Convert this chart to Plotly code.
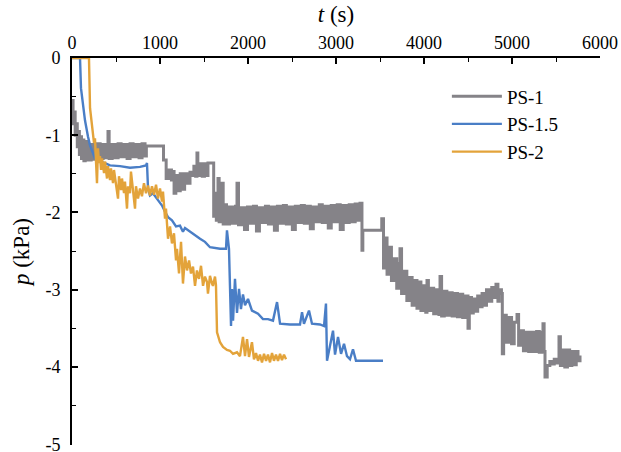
import plotly.graph_objects as go

# ---- PS-1 (t in s, p in kPa) ----
ps1_t = [0, 12, 24, 36, 48, 60, 72, 84, 96, 108, 120, 135, 150,
         184, 218, 252, 286, 320, 354, 388, 409, 422, 456, 490, 524, 558, 592, 626, 660,
         694, 728, 762, 796, 830, 845, 1030,
         1040, 1070, 1100, 1130, 1140, 1160, 1180, 1210, 1230, 1260, 1280, 1310, 1341,
         1360, 1385, 1405, 1420, 1430, 1455, 1480, 1505, 1530, 1545, 1600,
         1610, 1625, 1640, 1659, 1672, 1690, 1705, 1718, 1739,
         1756, 1790, 1824, 1858, 1875, 1892, 1926, 1960, 1994, 2028, 2062, 2096, 2130,
         2164, 2198, 2232, 2266, 2300, 2334, 2368, 2402, 2436, 2470, 2504, 2538, 2572,
         2606, 2640, 2674, 2708, 2742, 2776, 2810, 2844, 2878, 2912, 2946, 2980, 3014,
         3048, 3082, 3116, 3150, 3184, 3218, 3252, 3273,
         3295, 3305, 3330, 3500, 3520, 3540, 3560, 3580, 3600, 3614, 3630, 3660, 3690,
         3715, 3727, 3745, 3775, 3805, 3835, 3865, 3895, 3920, 3940, 3965, 3990, 4020,
         4034, 4050, 4080, 4110, 4140, 4170, 4182, 4200, 4230, 4260, 4290, 4320, 4350,
         4380, 4410, 4440, 4470, 4500, 4515,
         4540, 4560, 4590, 4610, 4640, 4660, 4690, 4710, 4740, 4770, 4790, 4818, 4840,
         4855, 4880, 4890, 4905, 4935, 4965, 4995, 5025, 5057, 5075, 5100, 5130, 5160,
         5190, 5220, 5250, 5280, 5310, 5340, 5352, 5365, 5375, 5400, 5430, 5460, 5480,
         5500, 5534, 5550, 5580, 5600, 5630, 5655, 5680, 5705, 5730, 5750, 5773]
ps1_p = [-0.55, -0.85, -0.70, -1.00, -0.85, -1.15, -0.95, -1.25, -1.02, -1.30, -1.06, -1.33, -1.08,
         -1.32, -1.12, -1.31, -1.11, -1.30, -1.12, -1.29, -0.95, -1.30, -1.12, -1.29, -1.11, -1.28, -1.12, -1.30, -1.11,
         -1.28, -1.12, -1.29, -1.11, -1.27, -1.14, -1.14,
         -1.32, -1.56, -1.45, -1.58, -1.47, -1.75, -1.52, -1.72, -1.50, -1.70, -1.50, -1.62, -1.48,
         -1.52, -1.40, -1.53, -1.23, -1.52, -1.37, -1.53, -1.37, -1.52, -1.36, -1.36,
         -2.05, -1.75, -2.10, -1.56, -2.12, -1.85, -1.62, -2.15, -1.90,
         -2.15, -1.93, -2.14, -1.92, -1.62, -2.16, -1.94, -2.22, -1.93, -2.14, -1.92, -2.24, -1.94,
         -2.13, -1.92, -2.15, -1.93, -2.23, -1.92, -2.14, -1.91, -2.15, -1.93, -2.22, -1.92, -2.13,
         -1.91, -2.14, -1.92, -2.21, -1.93, -2.12, -1.90, -2.13, -1.92, -2.20, -1.91, -2.12, -1.90,
         -2.22, -1.91, -2.13, -1.90, -2.12, -1.89, -2.10, -1.88,
         -2.49, -2.23, -2.23, -2.23, -2.08, -2.72, -2.33, -2.80, -2.52, -2.45, -2.88, -2.60, -2.98,
         -2.66, -2.47, -3.05, -2.76, -3.14, -2.84, -3.20, -2.88, -3.24, -2.90, -3.27, -2.95, -3.29,
         -2.88, -3.27, -2.98, -3.31, -3.00, -3.32, -2.83, -3.34, -3.02, -3.33, -3.04, -3.34, -3.05,
         -3.35, -3.06, -3.36, -3.08, -3.50, -3.10,
         -3.30, -3.12, -3.28, -3.08, -3.22, -3.05, -3.20, -3.00, -3.15, -2.97, -3.10, -2.93, -3.15,
         -3.00, -3.05, -3.83, -3.33, -3.68, -3.36, -3.70, -3.42, -3.32, -3.72, -3.53, -3.79, -3.55,
         -3.80, -3.55, -3.80, -3.54, -3.81, -3.55, -3.44, -3.80, -4.13, -3.98, -3.93, -3.96, -3.90,
         -3.95, -3.61, -3.98, -3.78, -4.00, -3.78, -3.98, -3.80, -3.97, -3.80, -3.92, -3.85]

# ---- PS-1.5 ----
ps15_t = [0, 91, 102, 148, 182, 205, 261, 318, 375, 432, 545, 659, 773, 841, 852, 864, 886,
          920, 977, 1023, 1057, 1091, 1136, 1182, 1227, 1261, 1284, 1318, 1364, 1455, 1511,
          1568, 1682, 1750, 1761, 1784, 1807, 1818, 1830, 1852, 1875, 1898, 1920, 1943, 1966,
          2000, 2045, 2114, 2170, 2227, 2284, 2330, 2364, 2477, 2591, 2614, 2636, 2693, 2727,
          2818, 2864, 2886, 2898, 2932, 2966, 2989, 3023, 3057, 3091, 3125, 3159, 3193, 3227,
          3273, 3534]
ps15_p = [0, 0, -0.39, -0.81, -1.02, -1.13, -1.30, -1.34, -1.36, -1.39, -1.40, -1.42, -1.41,
          -1.39, -1.36, -1.69, -1.78, -1.75, -1.84, -1.91, -1.99, -2.06, -2.10, -2.18, -2.17,
          -2.25, -2.20, -2.23, -2.27, -2.34, -2.38, -2.45, -2.47, -2.47, -2.23, -2.47, -3.47,
          -2.99, -3.40, -2.86, -3.30, -2.99, -3.25, -3.06, -3.20, -3.12, -3.27, -3.31, -3.38,
          -3.38, -3.40, -3.16, -3.44, -3.45, -3.45, -3.29, -3.44, -3.27, -3.44, -3.45, -3.47,
          -3.18, -3.92, -3.70, -3.53, -3.84, -3.61, -3.83, -3.70, -3.86, -3.90, -3.77, -3.92,
          -3.92, -3.92]

# ---- PS-2 ----
ps2_t = [0, 193, 205, 227, 250, 261, 273, 284, 295, 307, 318, 330, 341, 364, 375, 398, 409,
         432, 443, 466, 477, 500, 523, 534, 557, 568, 591, 602, 625, 636, 659, 670, 693, 716,
         727, 750, 773, 795, 818, 841, 864, 886, 909, 932, 955, 977, 1000, 1023, 1034, 1057,
         1068, 1091, 1114, 1136, 1159, 1182, 1193, 1216, 1239, 1261, 1284, 1307, 1330, 1352,
         1375, 1398, 1420, 1443, 1466, 1489, 1511, 1534, 1545, 1568, 1591, 1602, 1625, 1636,
         1648, 1682, 1716, 1761, 1795, 1830, 1875, 1909, 1943, 1966, 1989, 2011, 2045, 2068,
         2091, 2114, 2136, 2159, 2182, 2205, 2227, 2250, 2273, 2295, 2318, 2341, 2364, 2386,
         2409, 2432]
ps2_p = [0, 0, -0.65, -0.91, -1.10, -1.04, -1.27, -1.62, -1.17, -1.36, -1.27, -1.45, -1.30,
         -1.49, -1.34, -1.56, -1.40, -1.58, -1.43, -1.62, -1.45, -1.66, -1.82, -1.53, -1.71,
         -1.56, -1.75, -1.60, -1.95, -1.66, -1.75, -1.47, -1.73, -1.95, -1.66, -1.82, -1.69,
         -1.79, -1.62, -1.75, -1.65, -1.78, -1.66, -1.77, -1.64, -1.82, -1.69, -1.86, -1.73,
         -2.08, -1.95, -2.34, -2.18, -2.40, -2.27, -2.62, -2.47, -2.79, -2.38, -2.92, -2.57,
         -2.75, -2.62, -2.79, -2.70, -2.95, -2.75, -2.86, -2.69, -2.95, -2.83, -2.90, -3.05,
         -2.82, -2.92, -2.95, -2.83, -2.94, -3.55, -3.68, -3.74, -3.78, -3.79, -3.83, -3.81,
         -3.86, -3.61, -3.86, -3.64, -3.87, -3.68, -3.90, -3.82, -3.92, -3.84, -3.94, -3.83,
         -3.92, -3.84, -3.94, -3.82, -3.92, -3.84, -3.92, -3.83, -3.91, -3.84, -3.90]

x_ticks = [0, 1000, 2000, 3000, 4000, 5000, 6000]
y_ticks = [0, -1, -2, -3, -4, -5]
y_tick_labels = ["0", "-1", "-2", "-3", "-4", "-5"]

# PS-1 oscillates fast, so it is drawn as a step trace (vertical strokes)
series = [
    ("PS-1", ps1_t, ps1_p, "#858388", 3.0, "hv"),
    ("PS-1.5", ps15_t, ps15_p, "#4A7EC6", 2.4, "linear"),
    ("PS-2", ps2_t, ps2_p, "#E3A33A", 2.4, "linear"),
]

fig = go.Figure()
for name, t, p, color, width, shape in series:
    fig.add_trace(go.Scatter(x=t, y=p, mode="lines", name=name,
                             line=dict(color=color, width=width, shape=shape)))

font_family = "Liberation Serif, DejaVu Serif, serif"
axis_common = dict(
    showline=True, linecolor="black", linewidth=2,
    ticks="inside", ticklen=6, tickwidth=1.6, tickcolor="black",
    showgrid=False, zeroline=False, mirror=False, automargin=False,
    ticklabeloverflow="allow",
    tickfont=dict(family=font_family, size=18, color="black"),
)

fig.update_layout(
    width=621, height=452,
    margin=dict(l=72, r=21, t=58, b=7),
    paper_bgcolor="white", plot_bgcolor="white",
    font=dict(family=font_family, color="black"),
    xaxis=dict(
        side="top", range=[0, 6000], tickmode="array", tickvals=x_ticks,
        minor=dict(ticks="inside", ticklen=4, tickwidth=1.4, tickcolor="black",
                   tickvals=[500, 1500, 2500, 3500, 4500, 5500]),
        title=dict(text="<i>t</i> (s)", font=dict(family=font_family, size=23), standoff=4),
        ticklabelstandoff=0,
        **axis_common,
    ),
    yaxis=dict(
        range=[-5.01, 0], tickmode="array", tickvals=y_ticks, ticktext=y_tick_labels,
        minor=dict(ticks="inside", ticklen=4, tickwidth=1.4, tickcolor="black",
                   tickvals=[-0.5, -1.5, -2.5, -3.5, -4.5]),
        title=dict(text="<i>p</i> (kPa)", font=dict(family=font_family, size=23), standoff=9),
        ticklabelstandoff=6,
        **axis_common,
    ),
    legend=dict(x=0.71, y=0.95, xanchor="left", yanchor="top",
                bgcolor="rgba(0,0,0,0)", font=dict(family=font_family, size=19),
                tracegroupgap=0, itemwidth=50),
    showlegend=True,
)

fig.write_html("out.html")
